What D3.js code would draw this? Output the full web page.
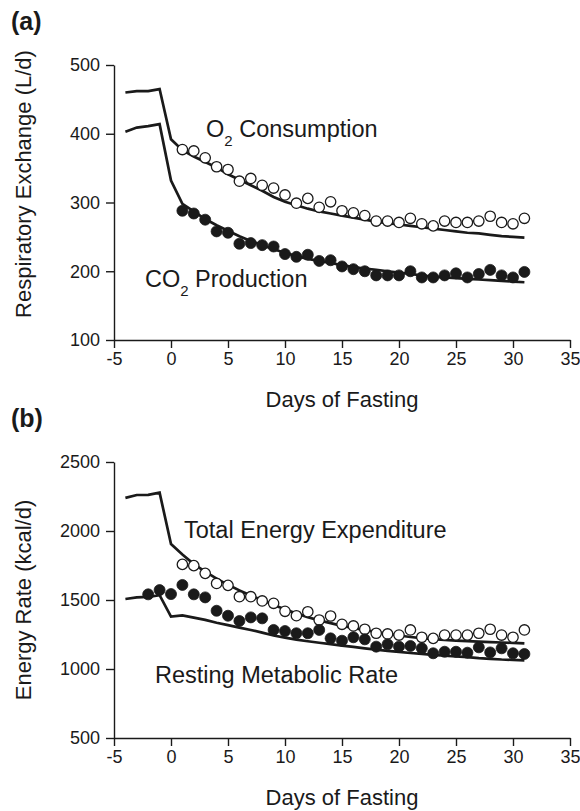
<!DOCTYPE html>
<html>
<head>
<meta charset="utf-8">
<script src="https://cdn.jsdelivr.net/npm/d3@7"></script>
<style>
  html, body { margin: 0; padding: 0; background: #fff; }
  svg { display: block; font-family: "Liberation Sans", Arial, Helvetica, sans-serif; }
</style>
</head>
<body>
<svg id="chart" width="580" height="811"></svg>
<script>
// ---------- Data ----------
const xTicks = [-5, 0, 5, 10, 15, 20, 25, 30, 35];
const yTicksA = [100, 200, 300, 400, 500];
const yTicksB = [500, 1000, 1500, 2000, 2500];

// model lines (days -4 .. 31)
const lineDays = [-4,-3,-2,-1,0,1,2,3,4,5,6,7,8,9,10,11,12,13,14,15,16,17,18,19,20,21,22,23,24,25,26,27,28,29,30,31];
const o2Line  = [460,462,462,465,392,376,367,359,351,341,333,325,317,308,301,296,291,287,284,281,278,275,272,270,268,266,264,262,260,258,256,255,253,251,250,249];
const co2Line = [403,409,411,414,332,298,287,276,267,259,251,244,238,232,227,222,218,215,212,209,206,204,202,200,198,196,194,192,191,190,189,188,187,186,185,184];
const teeLine = [2240,2261,2262,2278,1905,1830,1760,1705,1655,1610,1570,1532,1500,1466,1432,1402,1376,1352,1332,1313,1297,1282,1268,1255,1243,1232,1224,1217,1211,1206,1202,1198,1195,1192,1189,1186];
const rmrLine = [1507,1519,1522,1535,1380,1388,1372,1356,1335,1318,1300,1283,1264,1243,1227,1213,1201,1190,1180,1170,1160,1150,1141,1132,1124,1116,1109,1102,1096,1091,1086,1079,1074,1069,1066,1063];

// measured points, days 1 .. 31
const obsDays = [1,2,3,4,5,6,7,8,9,10,11,12,13,14,15,16,17,18,19,20,21,22,23,24,25,26,27,28,29,30,31];
const o2Obs  = [377,375,365,352,348,331,335,325,321,311,299,306,293,301,288,285,281,273,273,271,277,269,266,273,271,271,273,280,271,269,277];
const co2Obs = [288,284,275,258,256,240,241,238,236,225,221,224,215,216,207,203,200,194,194,194,200,191,191,194,197,191,196,202,194,191,199];
const teeObs = [1758,1749,1693,1620,1606,1524,1524,1493,1476,1418,1386,1415,1355,1384,1324,1312,1288,1259,1254,1246,1283,1230,1222,1246,1246,1246,1259,1288,1246,1230,1283];
// resting metabolic rate, days -2 .. 31
const rmrDays = [-2,-1,0,1,2,3,4,5,6,7,8,9,10,11,12,13,14,15,16,17,18,19,20,21,22,23,24,25,26,27,28,29,30,31];
const rmrObs  = [1541,1572,1543,1609,1541,1519,1422,1386,1348,1374,1367,1283,1275,1259,1259,1283,1222,1205,1230,1215,1162,1179,1162,1167,1150,1114,1125,1125,1118,1157,1120,1150,1114,1109];

// ---------- Drawing ----------
const svg = d3.select("#chart");
const ink = "#1a1a1a";

function panel(cfg) {
  const x = d3.scaleLinear().domain([-5, 35]).range([114, 570]);
  const y = d3.scaleLinear().domain(cfg.yDomain).range([cfg.bottom, cfg.top]);
  const g = svg.append("g");

  // axes
  const ax = g.append("g").attr("transform", `translate(0,${cfg.bottom})`)
    .call(d3.axisBottom(x).tickValues(xTicks).tickSize(8).tickSizeOuter(0).tickPadding(4)
      .tickFormat(d => String(d)));
  const ay = g.append("g").attr("transform", `translate(114,0)`)
    .call(d3.axisLeft(y).tickValues(cfg.yTicks).tickSize(8).tickSizeOuter(0).tickPadding(6)
      .tickFormat(d => String(d)));
  [ax, ay].forEach(a => {
    a.selectAll("path.domain").attr("stroke", ink).attr("stroke-width", 1.4);
    a.selectAll(".tick line").attr("stroke", ink).attr("stroke-width", 1.4);
    a.selectAll(".tick text").attr("fill", ink).attr("font-size", 18)
      .attr("font-family", '"Liberation Sans", Arial, sans-serif');
  });

  // lines
  const line = d3.line().x((d, i) => x(lineDays[i])).y(d => y(d));
  cfg.lines.forEach(vals => {
    g.append("path").datum(vals).attr("d", line)
      .attr("fill", "none").attr("stroke", ink).attr("stroke-width", 2.7)
      .attr("stroke-linejoin", "miter");
  });

  // points
  cfg.points.forEach(p => {
    g.append("g").selectAll("circle").data(p.vals).join("circle")
      .attr("cx", (d, i) => x(p.days[i])).attr("cy", d => y(d)).attr("r", p.filled ? 5.5 : 5.2)
      .attr("fill", p.filled ? ink : "#fff")
      .attr("stroke", ink).attr("stroke-width", p.filled ? 0.8 : 1.3);
  });

  // x-axis title
  g.append("text").attr("x", 342).attr("y", cfg.bottom + 67).attr("text-anchor", "middle")
    .attr("font-size", 22).attr("fill", ink).text("Days of Fasting");
  // y-axis title
  g.append("text").attr("transform", `translate(31,${cfg.yTitleY}) rotate(-90)`)
    .attr("text-anchor", "middle").attr("font-size", 22).attr("fill", ink).text(cfg.yTitle);
  // panel tag
  g.append("text").attr("x", 11).attr("y", cfg.top - 35).attr("font-size", 25)
    .attr("font-weight", "bold").attr("fill", ink).text(cfg.tag);

  // in-plot labels
  cfg.labels.forEach(l => {
    const t = g.append("text").attr("x", l.x).attr("y", l.y).attr("font-size", 23.5).attr("fill", ink);
    if (l.sub) {
      t.append("tspan").text(l.pre);
      t.append("tspan").attr("font-size", 15).attr("dy", 9).text(l.sub);
      t.append("tspan").attr("dy", -9).text(l.post);
    } else {
      t.text(l.text);
    }
  });
}

panel({
  tag: "(a)", top: 65, bottom: 340, yDomain: [100, 500], yTicks: yTicksA,
  yTitle: "Respiratory Exchange (L/d)", yTitleY: 184,
  lines: [o2Line, co2Line],
  points: [
    { days: obsDays, vals: o2Obs, filled: false },
    { days: obsDays, vals: co2Obs, filled: true }
  ],
  labels: [
    { x: 206, y: 137, pre: "O", sub: "2", post: " Consumption" },
    { x: 145, y: 287, pre: "CO", sub: "2", post: " Production" }
  ]
});

panel({
  tag: "(b)", top: 462, bottom: 738, yDomain: [500, 2500], yTicks: yTicksB,
  yTitle: "Energy Rate (kcal/d)", yTitleY: 600,
  lines: [teeLine, rmrLine],
  points: [
    { days: obsDays, vals: teeObs, filled: false },
    { days: rmrDays, vals: rmrObs, filled: true }
  ],
  labels: [
    { x: 184, y: 538, text: "Total Energy Expenditure" },
    { x: 155, y: 683, text: "Resting Metabolic Rate" }
  ]
});
</script>
</body>
</html>
